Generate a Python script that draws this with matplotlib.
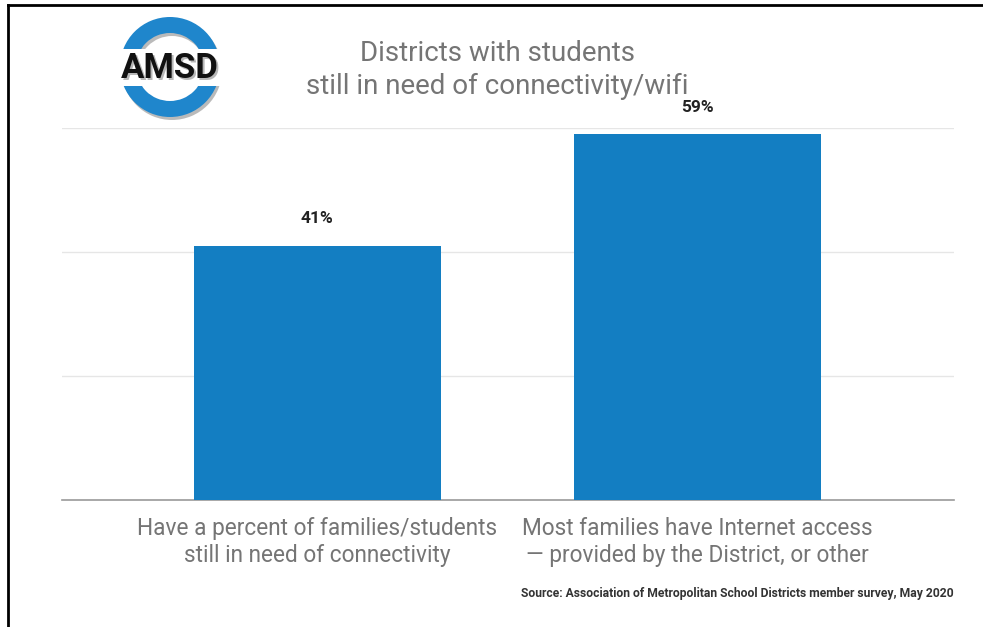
import matplotlib
matplotlib.use("Agg")
import matplotlib.pyplot as plt
from matplotlib.patches import Wedge, Rectangle
from matplotlib.lines import Line2D

categories = ["Have a percent of families/students\nstill in need of connectivity",
              "Most families have Internet access\n\u2014 provided by the District, or other"]
values = [41, 59]
value_labels = ["41%", "59%"]
y_ticks = [0, 20, 40, 60]
title = "Districts with students\nstill in need of connectivity/wifi"
source = "Source: Association of Metropolitan School Districts member survey, May 2020"

W, H = 983, 627
fig = plt.figure(figsize=(W / 100, H / 100), dpi=100)
fig.patch.set_facecolor("white")

ax = fig.add_axes([62 / W, 1 - 500 / H, 892 / W, 372 / H])
x = list(range(len(categories)))
ax.bar(x, values, width=0.65, color="#137ec2", zorder=3)
ax.set_xlim(-0.672, 1.675)
ax.set_ylim(0, 60)
ax.set_yticks(y_ticks)
ax.set_yticklabels([])
ax.tick_params(axis="y", length=0)
ax.grid(axis="y", color="#e6e6e6", linewidth=1, zorder=0)
for s in ["top", "right", "left"]:
    ax.spines[s].set_visible(False)
ax.spines["bottom"].set_color("#9a9a9a")
ax.spines["bottom"].set_linewidth(1.2)
ax.set_xticks(x)
ax.set_xticklabels(categories, family="Roboto", fontsize=16.3, color="#757575", linespacing=1.22)
ax.tick_params(axis="x", length=0, pad=12.5)
for xi, v, lab in zip(x, values, value_labels):
    ax.annotate(lab, (xi, v), xytext=(0, 19.5), textcoords="offset points",
                ha="center", va="center", family="Roboto", fontweight="bold",
                fontsize=12.5, color="#222222", annotation_clip=False)

# overlay axes in pixel coordinates
ov = fig.add_axes([0, 0, 1, 1], zorder=5)
ov.set_xlim(0, W)
ov.set_ylim(H, 0)
ov.axis("off")
ov.patch.set_alpha(0)

ov.text(497, 70, title, ha="center", va="center", family="Roboto", fontsize=20,
        color="#757575", linespacing=1.3)
ov.text(954, 593, source, ha="right", va="center", family="Roboto", fontweight="bold",
        fontsize=8.75, color="#333333")

# border
ov.add_line(Line2D([8, W], [5, 5], color="black", linewidth=2))
ov.add_line(Line2D([8, 8], [5, H], color="black", linewidth=2))

# logo
cx, cy = 170, 67
for clip_y0, clip_h in [(0, 49), (86, 100)]:
    shadow = Wedge((cx + 2, cy + 3), 50, 0, 360, width=16, facecolor="#777777", alpha=0.5)
    ov.add_patch(shadow)
    clip = Rectangle((0, clip_y0), 400, clip_h, transform=ov.transData)
    shadow.set_clip_path(clip)
    ring = Wedge((cx, cy), 50, 0, 360, width=16, facecolor="#1f86cc")
    ov.add_patch(ring)
    clip2 = Rectangle((0, clip_y0), 400, clip_h, transform=ov.transData)
    ring.set_clip_path(clip2)
ov.text(cx + 1.5, cy + 3.5, "AMSD", ha="center", va="center", family="Roboto",
        fontweight="bold", fontsize=25, color="#888888", alpha=0.6)
ov.text(cx, cy + 2, "AMSD", ha="center", va="center", family="Roboto",
        fontweight="bold", fontsize=25, color="#111111")

fig.savefig("out.png", dpi=100, facecolor="white")
